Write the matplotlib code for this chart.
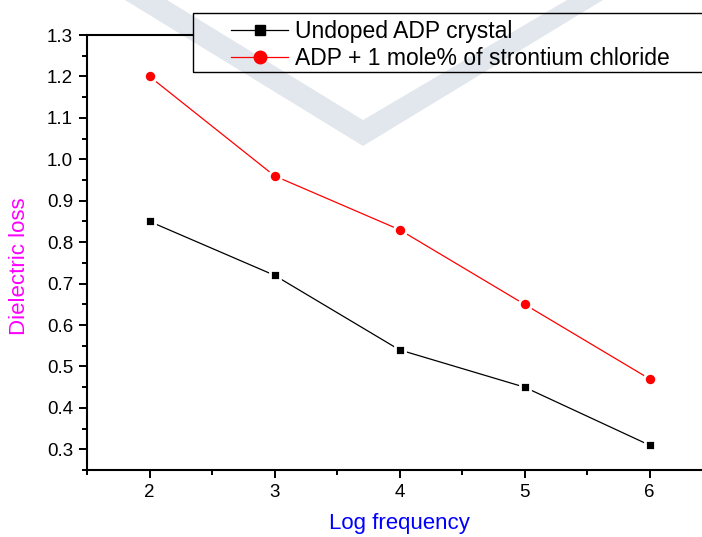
import numpy as np
import matplotlib.pyplot as plt
from matplotlib.lines import Line2D
from matplotlib.patches import Polygon, Rectangle
from matplotlib.ticker import MultipleLocator

plt.rcParams['font.family'] = ['Liberation Sans', 'DejaVu Sans']

log_freq = [2, 3, 4, 5, 6]
undoped = [0.85, 0.72, 0.54, 0.45, 0.31]
doped = [1.20, 0.96, 0.83, 0.65, 0.47]
labels = ['Undoped ADP crystal', 'ADP + 1 mole% of strontium chloride']

W, H = 702, 537


def px(x, y):
    # pixel position (origin top-left) -> figure fraction
    return x / W, 1 - y / H


fig = plt.figure(figsize=(W / 100, H / 100), dpi=100)

# faint page watermark behind the plot
mark = Polygon([px(125, 0), px(167, 0), px(363, 120), px(567, 0),
                px(603, 0), px(363, 146)], closed=True,
               transform=fig.transFigure, facecolor='#e2e7ed',
               edgecolor='none', zorder=-5)
fig.patches.append(mark)

x0, y0 = px(87, 470)
x1, y1 = px(712, 35)
ax = fig.add_axes([x0, y0, x1 - x0, y1 - y0])
ax.set_facecolor('none')

ax.plot(log_freq, undoped, color='black', lw=0.9, marker='s', ms=7.6,
        mfc='black', mec='white', mew=2.0, zorder=3)
ax.plot(log_freq, doped, color='red', lw=0.9, marker='o', ms=8.8,
        mfc='red', mec='white', mew=2.0, zorder=3)

ax.set_xlim(1.5, 6.5)
ax.set_ylim(0.25, 1.3)
ax.xaxis.set_major_locator(MultipleLocator(1))
ax.xaxis.set_minor_locator(MultipleLocator(0.5))
ax.yaxis.set_minor_locator(MultipleLocator(0.05))
ax.set_yticks(np.arange(0.3, 1.31, 0.1))
ax.yaxis.set_major_formatter(plt.FormatStrFormatter('%.1f'))

ax.tick_params(which='major', direction='out', length=6, width=1.4,
               labelsize=13.5, pad=4)
ax.tick_params(which='minor', direction='out', length=3.6, width=1.4)
for s in ax.spines.values():
    s.set_linewidth(1.5)
ax.spines['right'].set_visible(False)

ax.set_xlabel('Log frequency', color='#0000ff', fontsize=16, labelpad=9)
ax.set_ylabel('Dielectric loss', color='#ff00ff', fontsize=16)
ax.yaxis.set_label_coords(-0.091, 0.469)

# legend box runs off the right edge; top spine stops where it starts
box_l, box_t = px(193, 13)
box_r, box_b = px(708, 72)
frame = Rectangle((box_l, box_b), box_r - box_l, box_t - box_b,
                  transform=fig.transFigure, facecolor='none',
                  edgecolor='black', lw=1.0, zorder=5)
fig.patches.append(frame)
fig.canvas.draw()
left_data = ax.transData.inverted().transform(
    fig.transFigure.transform((box_l, box_t)))[0]
ax.spines['top'].set_bounds(1.5, left_data)

handles = [
    Line2D([], [], color='black', lw=0.9, marker='s', ms=7.5),
    Line2D([], [], color='red', lw=0.9, marker='o', ms=9),
]
fig.legend(handles, labels, loc='upper left', bbox_to_anchor=px(231, 20),
           frameon=False, fontsize=16.5, handlelength=2.5, handletextpad=0.3,
           labelspacing=0.17, borderpad=0, borderaxespad=0)

fig.savefig('out.png', dpi=100)
